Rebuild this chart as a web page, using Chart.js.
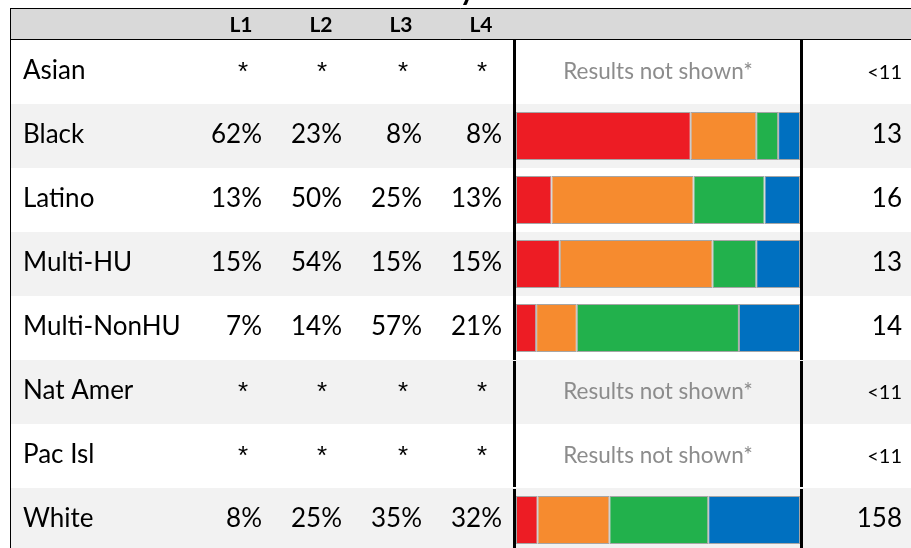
<!DOCTYPE html>
<html>
<head>
<meta charset="utf-8">
<script src="https://cdn.jsdelivr.net/npm/chart.js@4.4.1/dist/chart.umd.min.js"></script>
<style>
    html, body { margin: 0; padding: 0; overflow: hidden; background: #fff; }
    #wrap { width: 911px; height: 552px; }
</style>
</head>
<body>
<div id="wrap"><canvas id="myChart" width="911" height="552"></canvas></div>
<script>
const groups = ["Asian", "Black", "Latino", "Multi-HU", "Multi-NonHU", "Nat Amer", "Pac Isl", "White"];
const levels = ["L1", "L2", "L3", "L4"];

// percentages as printed in the table
const pctL1 = ["*", "62%", "13%", "15%", "7%", "*", "*", "8%"];
const pctL2 = ["*", "23%", "50%", "54%", "14%", "*", "*", "25%"];
const pctL3 = ["*", "8%", "25%", "15%", "57%", "*", "*", "35%"];
const pctL4 = ["*", "8%", "13%", "15%", "21%", "*", "*", "32%"];
const counts = ["<11", "13", "16", "13", "14", "<11", "<11", "158"];

// bar segment values (null = results not shown)
const l1Values = [null, 61.5, 12.5, 15.4, 7.1, null, null, 7.6];
const l2Values = [null, 23.1, 50.0, 53.8, 14.3, null, null, 25.3];
const l3Values = [null, 7.7, 25.0, 15.4, 57.1, null, null, 34.8];
const l4Values = [null, 7.7, 12.5, 15.4, 21.5, null, null, 32.3];

const barColors = ["#ed1c24", "#f68b2f", "#22b14c", "#0070c0"];
const hiddenText = "Results not shown*";

document.addEventListener("DOMContentLoaded", function () {
    const FONT = "Lato, 'Open Sans', sans-serif";
    const pctCols = [pctL1, pctL2, pctL3, pctL4];
    const pctRight = [262, 342, 422, 502];   // right edge of % text
    const starX = [243, 322, 403, 482];      // centre of the asterisks
    const headX = [241, 321, 401, 481];

    const tablePlugin = {
        id: "tablePlugin",
        beforeDraw(chart) {
            const ctx = chart.ctx;
            const y = chart.scales.y;
            const W = chart.width;
            ctx.save();
            ctx.fillStyle = "#fff";
            ctx.fillRect(0, 0, W, chart.height);

            // zebra rows
            groups.forEach((g, i) => {
                if (i % 2 === 1) {
                    const c = y.getPixelForValue(i);
                    ctx.fillStyle = "#f2f2f2";
                    ctx.fillRect(11, c - 32, W - 11, 64);
                }
            });

            // header band
            ctx.fillStyle = "#d9d9d9";
            ctx.fillRect(10, 8, W - 10, 32);

            // title (only its descender shows above the frame)
            ctx.fillStyle = "#000";
            ctx.font = "bold 30px " + FONT;
            ctx.textBaseline = "alphabetic";
            ctx.textAlign = "left";
            const pre = ctx.measureText("Results b").width;
            ctx.fillText("Results by Race", 460 - pre, 0);
            ctx.restore();
        },
        afterDraw(chart) {
            const ctx = chart.ctx;
            const y = chart.scales.y;
            const W = chart.width;
            ctx.save();

            // frame lines
            ctx.strokeStyle = "#000";
            ctx.lineWidth = 1;
            ctx.beginPath();
            ctx.moveTo(10, 8.5); ctx.lineTo(W, 8.5);
            ctx.moveTo(10, 39.5); ctx.lineTo(W, 39.5);
            ctx.moveTo(10.5, 8); ctx.lineTo(10.5, chart.height);
            ctx.stroke();

            // thick borders round the bar column
            ctx.fillStyle = "#000";
            const segs = [[40, 360], [361, 487], [489, chart.height]];
            segs.forEach(s => {
                ctx.fillRect(513, s[0], 3, s[1] - s[0]);
                ctx.fillRect(800, s[0], 3, s[1] - s[0]);
            });

            // header labels
            ctx.font = "bold 21px " + FONT;
            ctx.textAlign = "center";
            ctx.textBaseline = "alphabetic";
            levels.forEach((l, j) => ctx.fillText(l, headX[j], 32));

            groups.forEach((g, i) => {
                const top = y.getPixelForValue(i) - 32;
                const base = top + 39;
                ctx.fillStyle = "#000";
                ctx.font = "26px " + FONT;
                ctx.textAlign = "left";
                ctx.fillText(g, 23, base);

                pctCols.forEach((col, j) => {
                    if (col[i] === "*") {
                        ctx.font = "26px 'Liberation Sans', sans-serif";
                        ctx.textAlign = "center";
                        ctx.fillText("*", starX[j], base + 1);
                    } else {
                        ctx.font = "26px " + FONT;
                        ctx.textAlign = "right";
                        ctx.fillText(col[i], pctRight[j], base);
                    }
                });

                ctx.textAlign = "right";
                if (counts[i].startsWith("<")) {
                    ctx.font = "20px " + FONT;
                } else {
                    ctx.font = "26px " + FONT;
                }
                ctx.fillText(counts[i], 902, base);

                if (l1Values[i] === null) {
                    ctx.fillStyle = "#8c8c8c";
                    ctx.font = "22.5px " + FONT;
                    ctx.textAlign = "center";
                    ctx.fillText(hiddenText, 658, base);
                }
            });
            ctx.restore();
        }
    };

    const datasets = [l1Values, l2Values, l3Values, l4Values].map((vals, j) => ({
        label: levels[j],
        data: vals,
        backgroundColor: barColors[j],
        borderColor: "#a6a6a6",
        borderWidth: 1,
        borderSkipped: false,
        barPercentage: 0.75,
        categoryPercentage: 1.0
    }));

    const ctx = document.getElementById("myChart").getContext("2d");
    new Chart(ctx, {
        type: "bar",
        data: { labels: groups, datasets: datasets },
        options: {
            indexAxis: "y",
            responsive: false,
            animation: false,
            layout: { padding: { left: 516, right: 111, top: 40, bottom: 0 } },
            scales: {
                x: { stacked: true, min: 0, max: 100, display: false },
                y: { stacked: true, display: false }
            },
            plugins: {
                legend: { display: false },
                tooltip: { enabled: false }
            }
        },
        plugins: [tablePlugin]
    });
});
</script>
</body>
</html>
